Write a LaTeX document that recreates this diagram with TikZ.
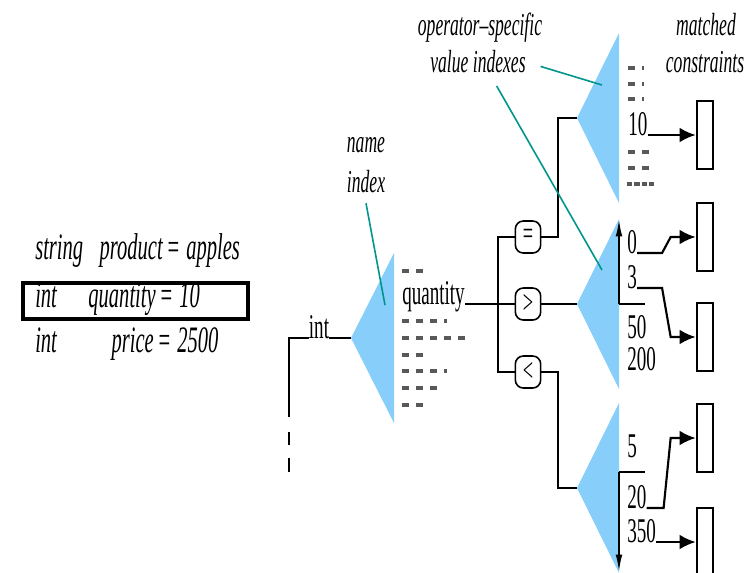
\documentclass[tikz,border=0pt]{standalone}
\usepackage{fontspec}
\setmainfont{Liberation Serif}[FakeStretch=0.55]
\usetikzlibrary{arrows.meta,calc}
\definecolor{idxblue}{RGB}{135,206,250}
\definecolor{pointer}{RGB}{0,150,140}

\begin{document}
\begin{tikzpicture}[x=0.75pt,y=-0.75pt,
  wire/.style={line width=1.5pt},
  arr/.style={line width=1.6pt,-{Latex[length=12pt,width=11pt]}},
  uparr/.style={line width=1.5pt,-{Latex[length=13pt,width=5pt]}},
  idx/.style={fill=idxblue},
  gap/.style={line width=2.3pt,black!65,dash pattern=on 5.25pt off 5.25pt},
  tight/.style={line width=2.3pt,black!65,dash pattern=on 4pt off 1.5pt},
  rec/.style={font=\fontsize{28}{28}\selectfont\itshape,inner sep=0pt},
  val/.style={font=\fontsize{26}{26}\selectfont,inner sep=0pt},
  lbl/.style={font=\fontsize{24}{24}\selectfont\itshape,inner sep=0pt},
  op/.style={draw,line width=1.2pt,rounded corners=6pt,minimum width=19pt,
    minimum height=24pt,inner sep=0pt,font=\fontsize{25}{25}\selectfont},
  cbox/.style={draw,line width=2pt,minimum width=12pt,minimum height=51pt,inner sep=0pt},
  note/.style={pointer,line width=1.2pt}]

\useasboundingbox (0,0) rectangle (754,572);

% the record
\foreach \ty/\nm/\vl/\nx/\y [count=\i] in
    {string/product/apples/163/259, int/quantity/10/156/307, int/price/2500/154/352} {
  \node[rec,anchor=base west] (ty\i) at (35,\y) {\ty};
  \node[rec,anchor=base east] (nm\i) at (\nx,\y) {\nm};
  \node[rec,anchor=base west] (vl\i) at (\nx+3,\y) {=\,\vl};
}
\draw[line width=2.3pt] (23,283) rectangle (248,319);

% name index
\node[val,anchor=base] (int) at (319,338) {int};
\coordinate (nmroot) at (351,338);
\fill[idx] (nmroot) -- ++(43,-85) -- ++(0,170) -- cycle;
\draw[wire] (289,417) |- (int.base west);
\draw[wire] (289,432) -- (289,445) (289,458) -- (289,472);
\draw[wire] (int.base east) -- (nmroot);
\foreach \y/\len in {271/21,321/45,338/63,355/21,371/45,388/35,405/21}
  \draw[gap] (402,\y) -- ++(\len,0);
\node[val,anchor=base west] (qty) at (402,304) {quantity};

% operators
\node[op] (eq) at (528,237) {=};
\node[op] (gt) at (528,304) {>};
\node[op] (lt) at (528,372) {<};
\draw[wire] (qty.base east) -- (gt.west);
\draw[wire] (eq.west) -- ++(-17,0) |- (lt.west);

% value indexes
\foreach \r/\y in {eqroot/118, gtroot/304, ltroot/488} {
  \coordinate (\r) at (577,\y);
  \fill[idx] (\r) -- ++(42,-85) -- ++(0,170) -- cycle;
}
\draw[wire] (eq.east) -| ($(eqroot)+(-19,0)$) -- (eqroot);
\draw[wire] (gt.east) -- (gtroot);
\draw[wire] (lt.east) -| ($(ltroot)+(-19,0)$) -- (ltroot);

% = index
\foreach \y/\len in {68/16,84/16,99/16,152/21,168/21}
  \draw[gap] (628,\y) -- ++(\len,0);
\draw[tight] (627,184) -- ++(28,0);
\node[val,anchor=base west] (v10) at (628,135) {10};

% > index
\node[val,anchor=base west] (v0) at (627,253) {0};
\node[val,anchor=base west] (v3) at (627,288) {3};
\node[val,anchor=base west] (v50) at (627,338) {50};
\node[val,anchor=base west] (v200) at (627,370) {200};
\coordinate (gtpos) at (619,304);
\draw[uparr] (gtpos) -- ++(0,-85);
\draw[wire] (gtpos) -- ++(26,0);

% < index
\node[val,anchor=base west] (v5) at (627,457) {5};
\node[val,anchor=base west] (v20) at (627,508) {20};
\node[val,anchor=base west] (v350) at (627,542) {350};
\coordinate (ltpos) at (619,472);
\draw[uparr] (ltpos) -- ++(0,100);
\draw[wire] (ltpos) -- ++(26,0);

% matched constraints
\node[cbox] (m1) at (705,135) {};
\node[cbox] (m2) at (705,237) {};
\node[cbox] (m3) at (705,337) {};
\node[cbox] (m4) at (705,438) {};
\node[cbox] (m5) at (705,542) {};
\draw[arr] (v10.base east) -- (m1.west);
\draw[arr] (v0.base east) -- ++(25,0) -- ($(m2.west)+(-25,0)$) -- (m2.west);
\draw[arr] (v3.base east) -- ++(25,0) -- ($(m3.west)+(-25,0)$) -- (m3.west);
\draw[arr] (v20.base east) -- ++(17,0) -- ($(m4.west)+(-25,0)$) -- (m4.west);
\draw[arr] (v350.base east) -- (m5.west);

% labels
\node[lbl,anchor=base] (nm) at (366,152) {name};
\node[lbl,anchor=base] (ix) at (366,192) {index};
\draw[note] ([yshift=-8pt]ix.south) -- (385,305);
\node[lbl,anchor=base] (os) at (480,35) {operator--specific};
\node[lbl,anchor=base] (vi) at (478,72) {value indexes};
\draw[note] ([shift={(11pt,-4pt)}]vi.east) -- (602,85);
\draw[note] ([shift={(14pt,-10pt)}]vi.south) -- (602,270);
\node[lbl,anchor=base] (mt) at (706,35) {matched};
\node[lbl,anchor=base] (cs) at (705,72) {constraints};
\end{tikzpicture}
\end{document}
